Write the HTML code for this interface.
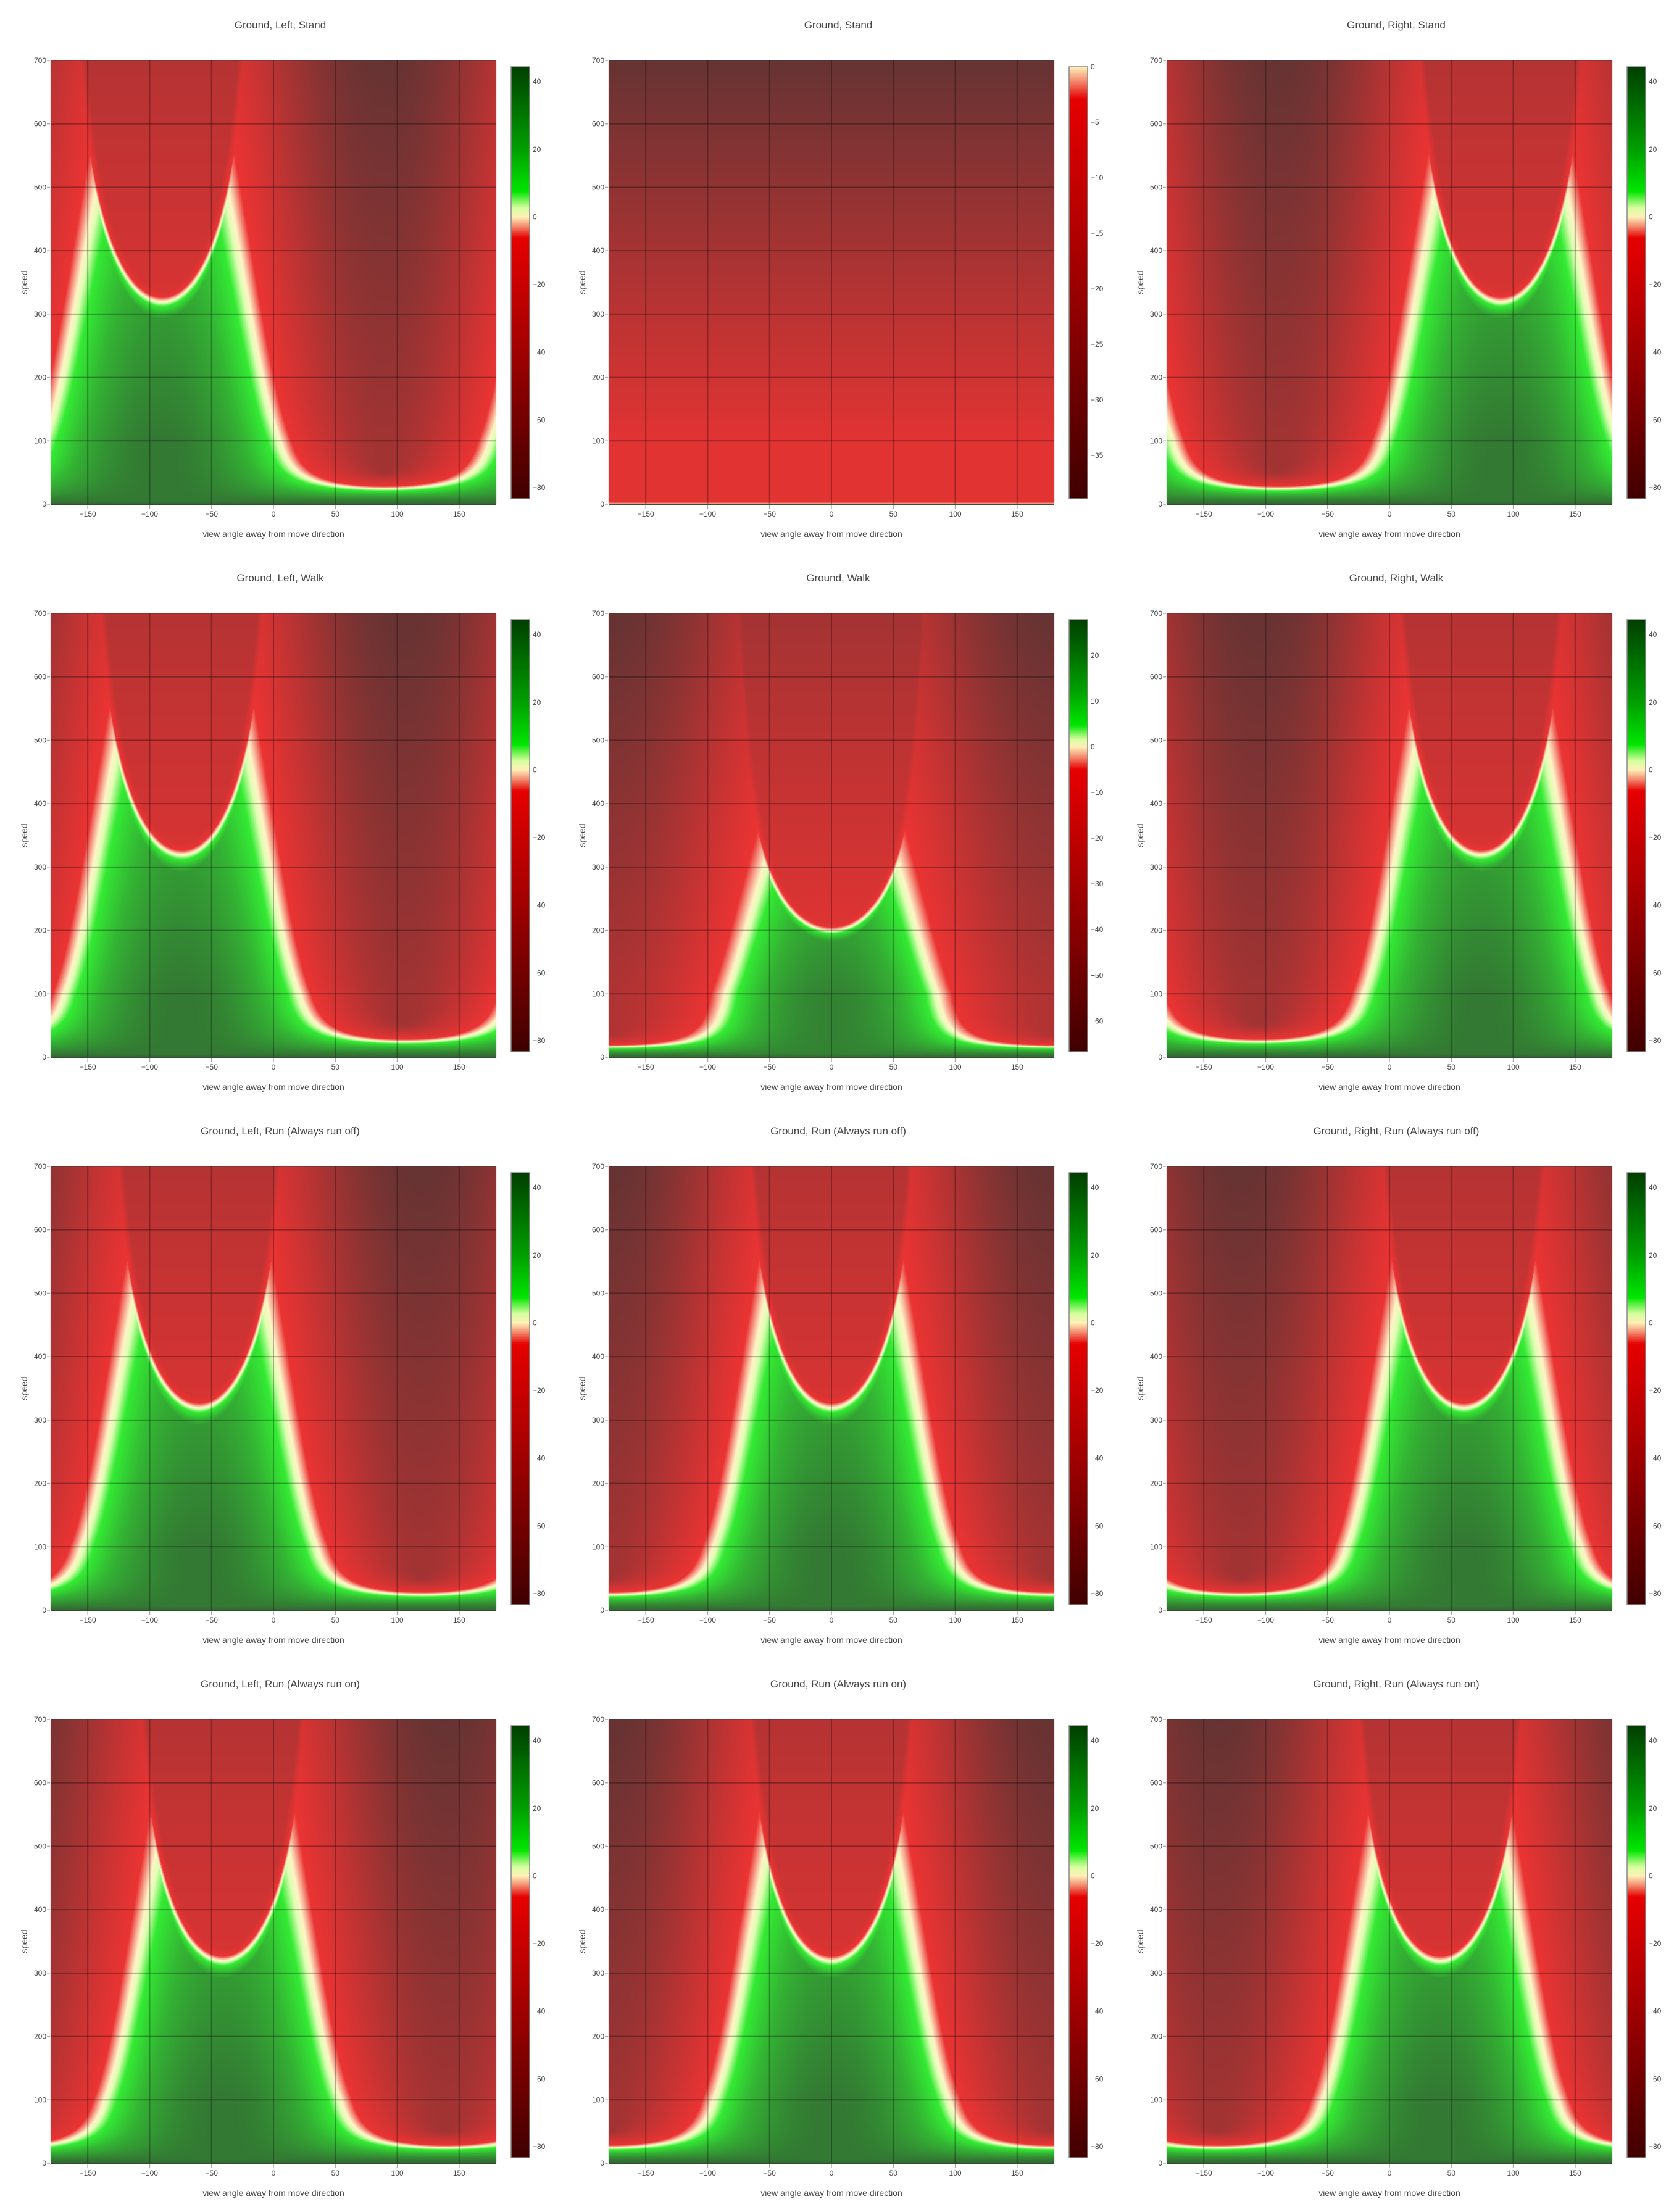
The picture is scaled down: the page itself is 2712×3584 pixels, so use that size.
<!DOCTYPE html>
<html><head><meta charset="utf-8">
<style>
html,body{margin:0;padding:0;background:#fff;}
#wrap{position:relative;width:2712px;height:3584px;overflow:hidden;}
#heat{position:absolute;left:0;top:0;}
#ov{position:absolute;left:0;top:0;}
text{font-family:"Liberation Sans",sans-serif;fill:#444;}
</style></head>
<body>
<div id="wrap">
<canvas id="heat" width="2712" height="3584"></canvas>
<svg id="ov" width="2712" height="3584" xmlns="http://www.w3.org/2000/svg"></svg>
</div>
<script>
// ---- data (panel parameters) ----
const titles = ["Ground, Left, Stand","Ground, Stand","Ground, Right, Stand",
"Ground, Left, Walk","Ground, Walk","Ground, Right, Walk",
"Ground, Left, Run (Always run off)","Ground, Run (Always run off)","Ground, Right, Run (Always run off)",
"Ground, Left, Run (Always run on)","Ground, Run (Always run on)","Ground, Right, Run (Always run on)"];
const wishOffsets = [-90,0,90, -74,0,74, -60,0,60, -41,0,41];
const wishSpeeds  = [320,0,320, 320,200,320, 320,320,320, 320,320,320];
const zMins = [-83.3,-38.9,-83.3, -83.3,-66.7,-83.3, -83.3,-83.3,-83.3, -83.3,-83.3,-83.3];
const zMaxs = [44.4,0,44.4, 44.4,27.8,44.4, 44.4,44.4,44.4, 44.4,44.4,44.4];
const cbTicksStd = [40,20,0,-20,-40,-60,-80];
const cbTicksStand = [0,-5,-10,-15,-20,-25,-30,-35];
const cbTicksWalk = [20,10,0,-10,-20,-30,-40,-50,-60];
const xTicks = [-150,-100,-50,0,50,100,150];
const yTicks = [0,100,200,300,400,500,600,700];
const X_RANGE = [-180,180];
const Y_RANGE = [0,700];
// physics constants
const FRICTION = 4, DT = 1/72, ACCEL = 10, STOPSPEED = 100;

// ---- layout ----
const PW = 722, PH = 719, COLDX = 904, ROWDY = 896, PX0 = 82, PY0 = 98;
const CBX = 828, CBW = 30, CBY0 = 108, CBY1 = 808;
const NS = "http://www.w3.org/2000/svg";
const ov = document.getElementById('ov');
function el(tag, attrs, parent){const e=document.createElementNS(NS,tag);for(const k in attrs)e.setAttribute(k,attrs[k]);(parent||ov).appendChild(e);return e;}
function fmt(v){return v<0?"\u2212"+Math.abs(v):String(v);}

function zval(theta, v, off, W){
  let s = v;
  if (s >= 1){ const c = Math.max(s, STOPSPEED); s = Math.max(s - c*FRICTION*DT, 0); } else s = 0;
  if (W > 0){
    const phi = (theta - off)*Math.PI/180;
    const cs = Math.cos(phi), sn = Math.sin(phi);
    const add = W - s*cs;
    if (add > 0){
      const a = Math.min(ACCEL*DT*W, add);
      const vx = s + a*cs, vy = a*sn;
      s = Math.hypot(vx, vy);
    }
  }
  return s - v;
}
const posStops = [[0,[255,242,185]],[0.06,[215,255,160]],[0.17,[0,230,0]],[0.45,[0,160,0]],[1,[0,64,0]]];
const negStops = [[0,[255,242,185]],[0.03,[245,150,120]],[0.075,[230,0,0]],[0.4,[175,0,0]],[1,[64,0,0]]];
function interp(stops, t){
  t = Math.max(0, Math.min(1, t));
  for (let i=1;i<stops.length;i++){
    if (t <= stops[i][0]){
      const a=stops[i-1], b=stops[i], f=(t-a[0])/(b[0]-a[0]);
      return [a[1][0]+(b[1][0]-a[1][0])*f, a[1][1]+(b[1][1]-a[1][1])*f, a[1][2]+(b[1][2]-a[1][2])*f];
    }
  }
  return stops[stops.length-1][1];
}
function color(z, zmin, zmax){
  if (z >= 0) return zmax>0 ? interp(posStops, z/zmax) : posStops[0][1];
  return interp(negStops, -z/Math.abs(zmin));
}

const ctx = document.getElementById('heat').getContext('2d');
const OPA = 0.8;
for (let p=0;p<12;p++){
  const c = p%3, r = Math.floor(p/3);
  const x0 = PX0 + c*COLDX, y0 = PY0 + r*ROWDY;
  const xs = v => x0 + (v - X_RANGE[0])/(X_RANGE[1]-X_RANGE[0])*PW;
  const ys = v => y0 + PH - (v - Y_RANGE[0])/(Y_RANGE[1]-Y_RANGE[0])*PH;
  const img = ctx.createImageData(PW, PH);
  const off = wishOffsets[p], W = wishSpeeds[p], zmin = zMins[p], zmax = zMaxs[p];
  for (let j=0;j<PH;j++){
    const v = Y_RANGE[1] - (j+0.5)/PH*(Y_RANGE[1]-Y_RANGE[0]);
    for (let i=0;i<PW;i++){
      const th = X_RANGE[0] + (i+0.5)/PW*(X_RANGE[1]-X_RANGE[0]);
      const col = color(zval(th, v, off, W), zmin, zmax);
      const k = (j*PW+i)*4;
      img.data[k]   = col[0]*OPA + 255*(1-OPA);
      img.data[k+1] = col[1]*OPA + 255*(1-OPA);
      img.data[k+2] = col[2]*OPA + 255*(1-OPA);
      img.data[k+3] = 255;
    }
  }
  ctx.putImageData(img, x0, y0);

  // colorbar
  const cbx = CBX + c*COLDX, cby0 = CBY0 + r*ROWDY, cby1 = CBY1 + r*ROWDY;
  for (let j=0;j<cby1-cby0;j++){
    const z = zmax - (j+0.5)/(cby1-cby0)*(zmax-zmin);
    const col = color(z, zmin, zmax);
    ctx.fillStyle = `rgb(${col[0]|0},${col[1]|0},${col[2]|0})`;
    ctx.fillRect(cbx, cby0+j, CBW, 1);
  }

  const g = el('g', {});
  
  

  // grid lines
  for (const t of xTicks){
    const ln = el('line',{x1:xs(t),x2:xs(t),y1:y0,y2:y0+PH,stroke:'rgba(0,0,0,0.3)','stroke-width':2},g);
    
    
    const tk = el('line',{x1:xs(t),x2:xs(t),y1:y0+PH+2,y2:y0+PH+7,stroke:'#aaa','stroke-width':1.5},g);
    
    
    const tx = el('text',{x:xs(t),y:y0+PH+20,'font-size':12,'text-anchor':'middle'},g);
    tx.textContent = fmt(t);
    
    
  }
  for (const t of yTicks){
    const ln = el('line',{x1:x0,x2:x0+PW,y1:ys(t),y2:ys(t),stroke:t===0?'rgba(0,40,0,0.8)':'rgba(0,0,0,0.3)','stroke-width':2},g);
    
    
    const tk = el('line',{x1:x0-6,x2:x0-1,y1:ys(t),y2:ys(t),stroke:'#aaa','stroke-width':1.5},g);
    
    
    const tx = el('text',{x:x0-7,y:ys(t)+4,'font-size':12,'text-anchor':'end'},g);
    tx.textContent = fmt(t);
    
    
  }
  const tt = el('text',{x:x0+372,y:y0-52,'font-size':17,'text-anchor':'middle'},g);
  tt.textContent = titles[p];
  
  
  const xt = el('text',{x:x0+PW/2,y:y0+PH+53,'font-size':14,'text-anchor':'middle'},g);
  xt.textContent = "view angle away from move direction";
  
  
  const yt = el('text',{x:0,y:0,'font-size':14,'text-anchor':'middle',transform:`translate(${x0-38},${y0+PH/2}) rotate(-90)`},g);
  yt.textContent = "speed";
  
  

  // colorbar border + ticks
  const cb = el('rect',{x:cbx,y:cby0,width:CBW,height:cby1-cby0,fill:'none',stroke:'#888','stroke-width':1.5},g);
  
  
  const ticks = p===1 ? cbTicksStand : (p===4 ? cbTicksWalk : cbTicksStd);
  for (const t of ticks){
    const yy = cby0 + (zmax - t)/(zmax - zmin)*(cby1-cby0);
    const tx = el('text',{x:cbx+CBW+5,y:yy+4,'font-size':12,'text-anchor':'start'},g);
    tx.textContent = fmt(t);
    
    
  }
}
</script>
</body></html>
